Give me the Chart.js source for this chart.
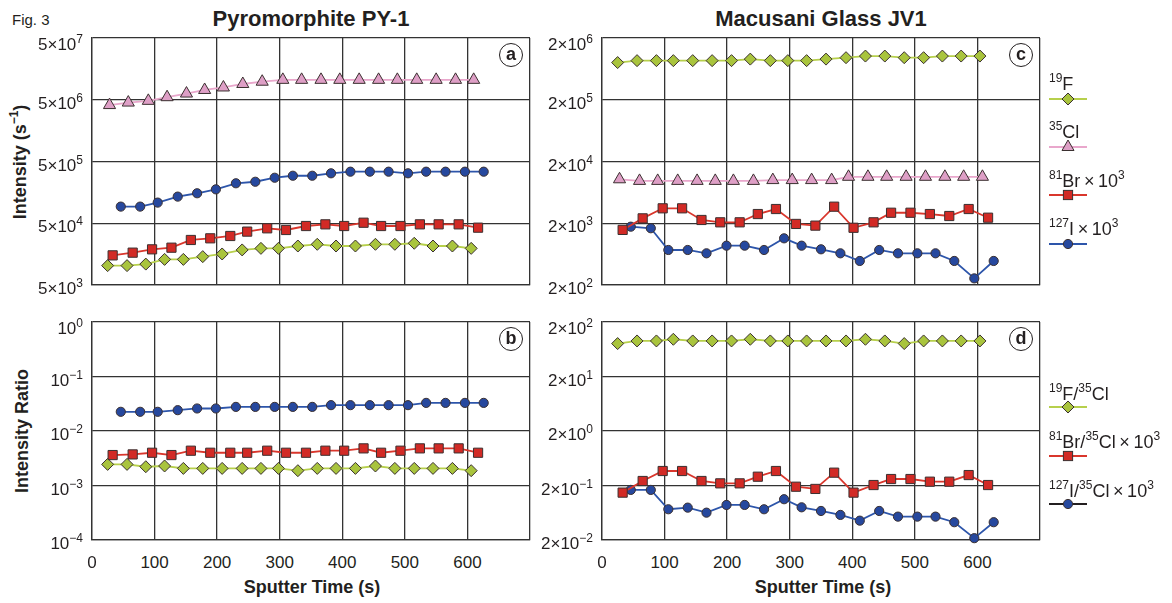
<!DOCTYPE html>
<html>
<head>
<meta charset="utf-8">
<script src="https://cdn.jsdelivr.net/npm/chart.js@4.4.1/dist/chart.umd.min.js"></script>
<style>
body{margin:0;background:#fff;font-family:"Liberation Sans",Arial,Helvetica,sans-serif;color:#231f20;}
#fig{position:relative;width:1172px;height:603px;overflow:hidden;background:#fff;}
.abs{position:absolute;white-space:nowrap;}
.tick{font-size:17px;line-height:17px;}
.tick sup{font-size:12px;line-height:0;vertical-align:7px;}
.title{font-size:22px;line-height:22px;font-weight:bold;transform:translate(-50%,-50%);}
.axt{font-size:18px;line-height:18px;font-weight:bold;}
.ytitle{transform:translate(-50%,-50%) rotate(-90deg);}
.sup2{font-size:12px;line-height:0;vertical-align:8px;}
.leg{font-size:18px;line-height:18px;transform:translate(0,-50%);}
.leg sup{font-size:12px;line-height:0;vertical-align:8px;}
.badge{width:22px;height:22px;border:1.6px solid #231f20;border-radius:50%;font-weight:bold;font-size:18px;line-height:21px;text-align:center;transform:translate(-50%,-50%);background:#fff;}
</style>
</head>
<body>
<div id="fig">
  <div class="abs" style="left:12px;top:12px;font-size:15px;line-height:15px;">Fig. 3</div>
  <div class="abs title" style="left:311px;top:19px;">Pyromorphite PY-1</div>
  <div class="abs title" style="left:821px;top:19px;">Macusani Glass JV1</div>
  <div class="abs axt ytitle" style="left:20px;top:162px;">Intensity (s<span class="sup2">−1</span>)</div>
  <div class="abs axt ytitle" style="left:22px;top:431px;">Intensity Ratio</div>
  <div class="abs axt" style="left:312px;top:587px;transform:translate(-50%,-50%);">Sputter Time (s)</div>
  <div class="abs axt" style="left:823px;top:587px;transform:translate(-50%,-50%);">Sputter Time (s)</div>
</div>
<script>
// ---- Pyromorphite PY-1 : sputter time (s) of each measurement ----
const pyTimeF  = [25,56,86,116,146,177,208,240,270,298,329,360,390,421,453,484,515,545,576,606];
const pyTimeCl = [28,58,90,120,151,180,210,241,272,305,335,366,396,427,458,488,519,550,581,610];
const pyTimeBr = [33,65,96,127,158,189,221,248,280,310,342,373,403,434,462,493,524,554,586,617];
const pyTimeI  = [46,77,105,137,168,198,230,261,292,321,352,382,413,444,474,505,534,565,596,626];

// panel a : intensity (s^-1), Br and I already x10^3
const pyF  = [1.03e4,1.03e4,1.09e4,1.30e4,1.30e4,1.44e4,1.59e4,1.85e4,1.96e4,1.96e4,2.14e4,2.28e4,2.14e4,2.14e4,2.28e4,2.28e4,2.37e4,2.14e4,2.14e4,1.96e4];
const pyCl = [4.1e6,4.5e6,4.8e6,5.5e6,6.3e6,7.2e6,7.9e6,9.0e6,9.8e6,1.05e7,1.05e7,1.05e7,1.05e7,1.05e7,1.05e7,1.05e7,1.05e7,1.05e7,1.05e7,1.05e7];
const pyBr = [1.51e4,1.67e4,1.89e4,2.01e4,2.68e4,2.85e4,3.11e4,3.66e4,4.14e4,3.89e4,4.51e4,4.8e4,4.51e4,5.1e4,4.51e4,4.51e4,4.8e4,4.8e4,4.8e4,4.24e4];
const pyI  = [9.3e4,9.3e4,1.08e5,1.35e5,1.53e5,1.77e5,2.22e5,2.35e5,2.73e5,2.94e5,2.94e5,3.22e5,3.42e5,3.42e5,3.42e5,3.22e5,3.42e5,3.42e5,3.42e5,3.42e5];

// panel b : ratios to 35Cl
const pyFCl  = [0.00244,0.00244,0.00221,0.00228,0.00206,0.00206,0.00206,0.00206,0.00206,0.00206,0.00187,0.00206,0.00206,0.00206,0.00228,0.00206,0.00206,0.00206,0.00206,0.00187];
const pyBrCl = [0.00362,0.00372,0.00399,0.00362,0.00435,0.00399,0.00399,0.00399,0.00435,0.00399,0.00399,0.00435,0.00435,0.0048,0.00399,0.00435,0.0048,0.0048,0.0048,0.00399];
const pyICl  = [0.0225,0.0225,0.0225,0.0241,0.0259,0.0259,0.0277,0.0277,0.0277,0.0277,0.0277,0.0298,0.0298,0.0298,0.0298,0.0298,0.0328,0.0328,0.0328,0.0328];

// ---- Macusani Glass JV1 ----
const glTimeF  = [25,56,87,114,145,176,207,237,269,297,327,358,390,421,452,483,514,544,574,604];
const glTimeCl = [28,60,89,121,152,181,210,242,273,304,335,367,394,425,455,486,517,548,578,608];
const glTimeBr = [33,65,97,128,159,189,220,249,278,310,341,371,402,434,462,493,524,555,586,617];
const glTimeI  = [46,78,106,137,167,199,228,259,291,319,350,381,412,443,473,504,533,563,595,626];

// panel c
const glF  = [8.0e5,8.6e5,8.6e5,8.6e5,8.6e5,8.6e5,8.6e5,9.1e5,8.6e5,8.6e5,8.6e5,9.1e5,9.6e5,1.02e6,1.02e6,9.6e5,9.6e5,1.02e6,1.02e6,1.02e6];
const glCl = [1.03e4,9.7e3,9.7e3,9.7e3,9.7e3,9.7e3,9.7e3,9.7e3,1.0e4,1.0e4,1.0e4,1.0e4,1.13e4,1.13e4,1.13e4,1.13e4,1.13e4,1.13e4,1.13e4,1.13e4];
const glBr = [1.56e3,2.4e3,3.49e3,3.49e3,2.26e3,2.07e3,2.07e3,2.82e3,3.4e3,1.95e3,1.83e3,3.71e3,1.69e3,2.07e3,2.96e3,2.96e3,2.82e3,2.62e3,3.4e3,2.46e3];
const glI  = [1760,1660,738,738,652,867,867,738,1140,867,757,652,490,738,652,652,652,490,256,490];

// panel d
const glFCl  = [80.4,89.8,89.8,96.4,89.8,89.8,89.8,96.4,89.8,89.8,89.8,89.8,89.8,96.4,89.8,80.4,89.8,89.8,89.8,89.8];
const glBrCl = [0.148,0.242,0.369,0.369,0.242,0.219,0.219,0.29,0.369,0.19,0.173,0.344,0.148,0.204,0.263,0.263,0.235,0.235,0.311,0.204];
const glICl  = [0.166,0.166,0.0733,0.0785,0.0635,0.0879,0.0879,0.0733,0.112,0.0796,0.0682,0.0577,0.0453,0.0682,0.0537,0.0537,0.0537,0.0424,0.0216,0.0424];

// axis ticks
const timeTicks = [0,100,200,300,400,500,600,700];
const timeLabels = ['0','100','200','300','400','500','600',''];
const ticksA = [5e3,5e4,5e5,5e6,5e7];
const ticksB = [1e-4,1e-3,1e-2,1e-1,1];
const ticksC = [2e2,2e3,2e4,2e5,2e6];
const ticksD = [2e-2,2e-1,2e0,2e1,2e2];

// styles per element
const sty = {
  F:  {line:'#b7d04c', fill:'#a9c43d', shape:'rectRot',  r:6},
  Cl: {line:'#e9a7cc', fill:'#de9fc6', shape:'triangle', r:7},
  Br: {line:'#d9362c', fill:'#d22a25', shape:'rect',     r:6.5},
  I:  {line:'#2d55aa', fill:'#26489e', shape:'circle',   r:4.6}
};

const fig = document.getElementById('fig');
const P = 12;

// 5e3 -> 5×10^3 , 1e-2 -> 10^-2
function sciLabel(v) {
  const ex = Math.floor(Math.log10(v) + 1e-9);
  const m = Math.round(v / Math.pow(10, ex));
  const es = (ex < 0 ? '−' + (-ex) : '' + ex);
  return (m === 1 ? '' : m + '×') + '10<sup>' + es + '</sup>';
}

function ds(t, v, s) {
  return {
    data: t.map((x, i) => ({x: x, y: v[i]})),
    borderColor: s.line,
    borderWidth: 1.8,
    pointStyle: s.shape,
    pointRadius: s.r,
    pointBackgroundColor: s.fill,
    pointBorderColor: '#3b3030',
    pointBorderWidth: 1,
    showLine: true,
    tension: 0,
    clip: false
  };
}

function panel(box, yTicks, sets, showX, letter) {
  const wrap = document.createElement('div');
  wrap.className = 'abs';
  wrap.style.left = (box.l - P) + 'px';
  wrap.style.top = (box.t - P) + 'px';
  const cv = document.createElement('canvas');
  cv.width = box.w + 2 * P;
  cv.height = box.h + 2 * P;
  cv.style.width = cv.width + 'px';
  cv.style.height = cv.height + 'px';
  wrap.appendChild(cv);
  fig.appendChild(wrap);

  const gridOpt = {color: '#333333', lineWidth: 1.3, drawTicks: false};
  const chart = new Chart(cv.getContext('2d'), {
    type: 'line',
    data: {datasets: sets},
    options: {
      responsive: false,
      animation: false,
      events: [],
      layout: {padding: P},
      plugins: {legend: {display: false}, tooltip: {enabled: false}},
      scales: {
        x: {
          type: 'linear', min: 0, max: 700,
          afterBuildTicks: sc => { sc.ticks = timeTicks.map(v => ({value: v})); },
          ticks: {display: false},
          grid: gridOpt,
          border: {display: true, color: '#333333', width: 1.3}
        },
        y: {
          type: 'logarithmic', min: yTicks[0], max: yTicks[yTicks.length - 1],
          afterBuildTicks: sc => { sc.ticks = yTicks.map(v => ({value: v})); },
          ticks: {display: false},
          grid: gridOpt,
          border: {display: true, color: '#333333', width: 1.3}
        }
      }
    }
  });

  const ox = box.l - P, oy = box.t - P;
  const xs = chart.scales.x, ys = chart.scales.y;
  // y tick labels
  yTicks.forEach((v, i) => {
    const d = document.createElement('div');
    d.className = 'abs tick';
    d.innerHTML = sciLabel(v);
    const py = oy + ys.getPixelForValue(v) + (i === yTicks.length - 1 ? 6 : 3);
    d.style.left = (ox + chart.chartArea.left - 9) + 'px';
    d.style.top = py + 'px';
    d.style.transform = 'translate(-100%,-50%)';
    fig.appendChild(d);
  });
  // x tick labels
  if (showX) {
    timeTicks.forEach((v, i) => {
      if (!timeLabels[i]) return;
      const d = document.createElement('div');
      d.className = 'abs tick';
      d.textContent = timeLabels[i];
      d.style.left = (ox + xs.getPixelForValue(v)) + 'px';
      d.style.top = (oy + chart.chartArea.bottom + 22) + 'px';
      d.style.transform = 'translate(-50%,-50%)';
      fig.appendChild(d);
    });
  }
  // panel letter
  const b = document.createElement('div');
  b.className = 'abs badge';
  b.textContent = letter;
  b.style.left = (ox + chart.chartArea.right - 19) + 'px';
  b.style.top = (oy + chart.chartArea.top + 17) + 'px';
  fig.appendChild(b);
  return chart;
}

panel({l: 92, t: 38, w: 438, h: 247}, ticksA, [
  ds(pyTimeCl, pyCl, sty.Cl), ds(pyTimeI, pyI, sty.I), ds(pyTimeBr, pyBr, sty.Br), ds(pyTimeF, pyF, sty.F)
], false, 'a');
panel({l: 92, t: 322, w: 438, h: 218}, ticksB, [
  ds(pyTimeI, pyICl, sty.I), ds(pyTimeBr, pyBrCl, sty.Br), ds(pyTimeF, pyFCl, sty.F)
], true, 'b');
panel({l: 602, t: 38, w: 438, h: 247}, ticksC, [
  ds(glTimeF, glF, sty.F), ds(glTimeCl, glCl, sty.Cl), ds(glTimeBr, glBr, sty.Br), ds(glTimeI, glI, sty.I)
], false, 'c');
panel({l: 602, t: 322, w: 438, h: 218}, ticksD, [
  ds(glTimeF, glFCl, sty.F), ds(glTimeBr, glBrCl, sty.Br), ds(glTimeI, glICl, sty.I)
], true, 'd');

// legends (HTML text + small svg key)
function keySvg(s, lineCol) {
  let m = '';
  const c = 19, y = 7;
  if (s.shape === 'rectRot') m = `<polygon points="${c-6},${y} ${c},${y-6} ${c+6},${y} ${c},${y+6}" fill="${s.fill}" stroke="#3b3030"/>`;
  if (s.shape === 'triangle') m = `<polygon points="${c},${y-7} ${c+6},${y+3.5} ${c-6},${y+3.5}" fill="${s.fill}" stroke="#3b3030"/>`;
  if (s.shape === 'rect') m = `<rect x="${c-4.6}" y="${y-4.6}" width="9.2" height="9.2" fill="${s.fill}" stroke="#3b3030"/>`;
  if (s.shape === 'circle') m = `<circle cx="${c}" cy="${y}" r="4.6" fill="${s.fill}" stroke="#3b3030"/>`;
  return `<svg width="40" height="14" style="display:block"><line x1="0" y1="${y}" x2="38" y2="${y}" stroke="${lineCol || s.line}" stroke-width="1.8"/>${m}</svg>`;
}
const legTop = [
  ['<sup>19</sup>F', sty.F, 84, 98.5],
  ['<sup>35</sup>Cl', sty.Cl, 132, 147],
  ['<sup>81</sup>Br\u2009×\u200910<sup>3</sup>', sty.Br, 181, 195],
  ['<sup>127</sup>I\u2009×\u200910<sup>3</sup>', sty.I, 229, 243.5]
];
const legBot = [
  ['<sup>19</sup>F/<sup>35</sup>Cl', sty.F, 394, 406.7, null],
  ['<sup>81</sup>Br/<sup>35</sup>Cl\u2009×\u200910<sup>3</sup>', sty.Br, 442, 456, null],
  ['<sup>127</sup>I/<sup>35</sup>Cl\u2009×\u200910<sup>3</sup>', sty.I, 491, 504, '#231f20']
];
legTop.concat(legBot).forEach(it => {
  const t = document.createElement('div');
  t.className = 'abs leg';
  t.innerHTML = it[0];
  t.style.left = '1049px';
  t.style.top = it[2] + 'px';
  fig.appendChild(t);
  const k = document.createElement('div');
  k.className = 'abs';
  k.style.left = '1049px';
  k.style.top = (it[3] - 7) + 'px';
  k.innerHTML = keySvg(it[1], it[4]);
  fig.appendChild(k);
});
</script>
</body>
</html>
